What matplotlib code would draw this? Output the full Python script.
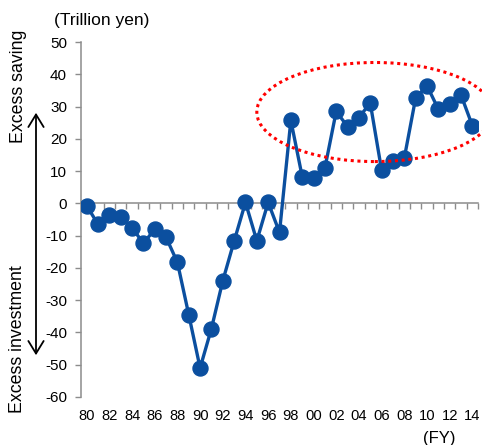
import numpy as np
import matplotlib.pyplot as plt
from matplotlib.patches import Ellipse, FancyArrowPatch

plt.rcParams['font.family'] = ['Liberation Sans', 'DejaVu Sans']

# Data: saving-investment balance (trillion yen), FY1980-2014
years = ["80", "81", "82", "83", "84", "85", "86", "87", "88", "89",
         "90", "91", "92", "93", "94", "95", "96", "97", "98", "99",
         "00", "01", "02", "03", "04", "05", "06", "07", "08", "09",
         "10", "11", "12", "13", "14"]
balance = [-0.7, -6.5, -3.6, -4.2, -7.5, -12.4, -8.0, -10.5, -18.3, -34.5,
           -51.0, -38.8, -24.0, -11.7, 0.3, -11.6, 0.3, -9.0, 25.7, 8.3,
           7.8, 10.9, 28.5, 23.8, 26.6, 31.1, 10.3, 13.1, 14.0, 32.6,
           36.5, 29.2, 30.7, 33.6, 24.1]
y_ticks = [50, 40, 30, 20, 10, 0, -10, -20, -30, -40, -50, -60]

W, H = 482, 445
fig = plt.figure(figsize=(W / 100, H / 100), dpi=100)
ax = fig.add_axes([81 / W, 1 - 397 / H, (478 - 81) / W, (397 - 42) / H])

x = np.arange(len(years))
blue = '#0b4f9f'
gray = '#8c8c8c'
ax.plot(x, balance, color=blue, lw=2.4, marker='o', ms=10.8,
        markerfacecolor=blue, markeredgecolor=blue, zorder=3)

ax.set_xlim(-0.5, len(years) - 0.5)
ax.set_ylim(-60, 50)

# y axis
ax.set_yticks(y_ticks)
ax.set_yticklabels([str(v) for v in y_ticks], fontsize=11)
ax.tick_params(axis='y', direction='out', length=4, color=gray, width=1, pad=6)
ax.spines['left'].set_color(gray)
ax.spines['left'].set_linewidth(1.1)
for s in ['top', 'right', 'bottom']:
    ax.spines[s].set_visible(False)

# year labels at the bottom, every other year
ax.set_xticks(x[::2])
ax.set_xticklabels(years[::2], fontsize=10.6)
ax.tick_params(axis='x', length=0, pad=9)

# horizontal axis line at zero with tick marks between categories
zero_pos = (0 - (-60)) / 110
sec = ax.secondary_xaxis(zero_pos)
sec.set_alignment('bottom')
sec.set_xticks(np.arange(-0.5, len(years), 1))
sec.set_xticklabels([])
sec.tick_params(axis='x', direction='out', length=4, color=gray, width=1)
sec.spines['bottom'].set_color(gray)
sec.spines['bottom'].set_linewidth(1.1)

# red dotted ellipse around the recent excess saving period
ell = Ellipse((25.4, 28.3), 20.8, 30.7, fill=False, edgecolor='#ff0000',
              lw=2.2, linestyle=(0, (1, 1.2)), clip_on=False, zorder=4)
ax.add_patch(ell)

# side arrow and labels
arrow = FancyArrowPatch((36 / W, 1 - 110 / H), (36 / W, 1 - 358 / H),
                        transform=fig.transFigure,
                        arrowstyle='<->,head_length=0.9,head_width=0.55',
                        mutation_scale=10, lw=1.3, color='black')
fig.add_artist(arrow)
fig.text(18.5 / W, 1 - 86 / H, "Excess saving", rotation=90,
         ha='center', va='center', fontsize=12.8)
fig.text(18 / W, 1 - 339 / H, "Excess investment", rotation=90,
         ha='center', va='center', fontsize=12.8)

fig.text(102 / W, 1 - 21 / H, "(Trillion yen)", ha='center', va='center',
         fontsize=12.5)
fig.text(439 / W, 1 - 431 / H, "(FY)", ha='center', va='top', fontsize=12)

fig.savefig("out.png", dpi=100)
